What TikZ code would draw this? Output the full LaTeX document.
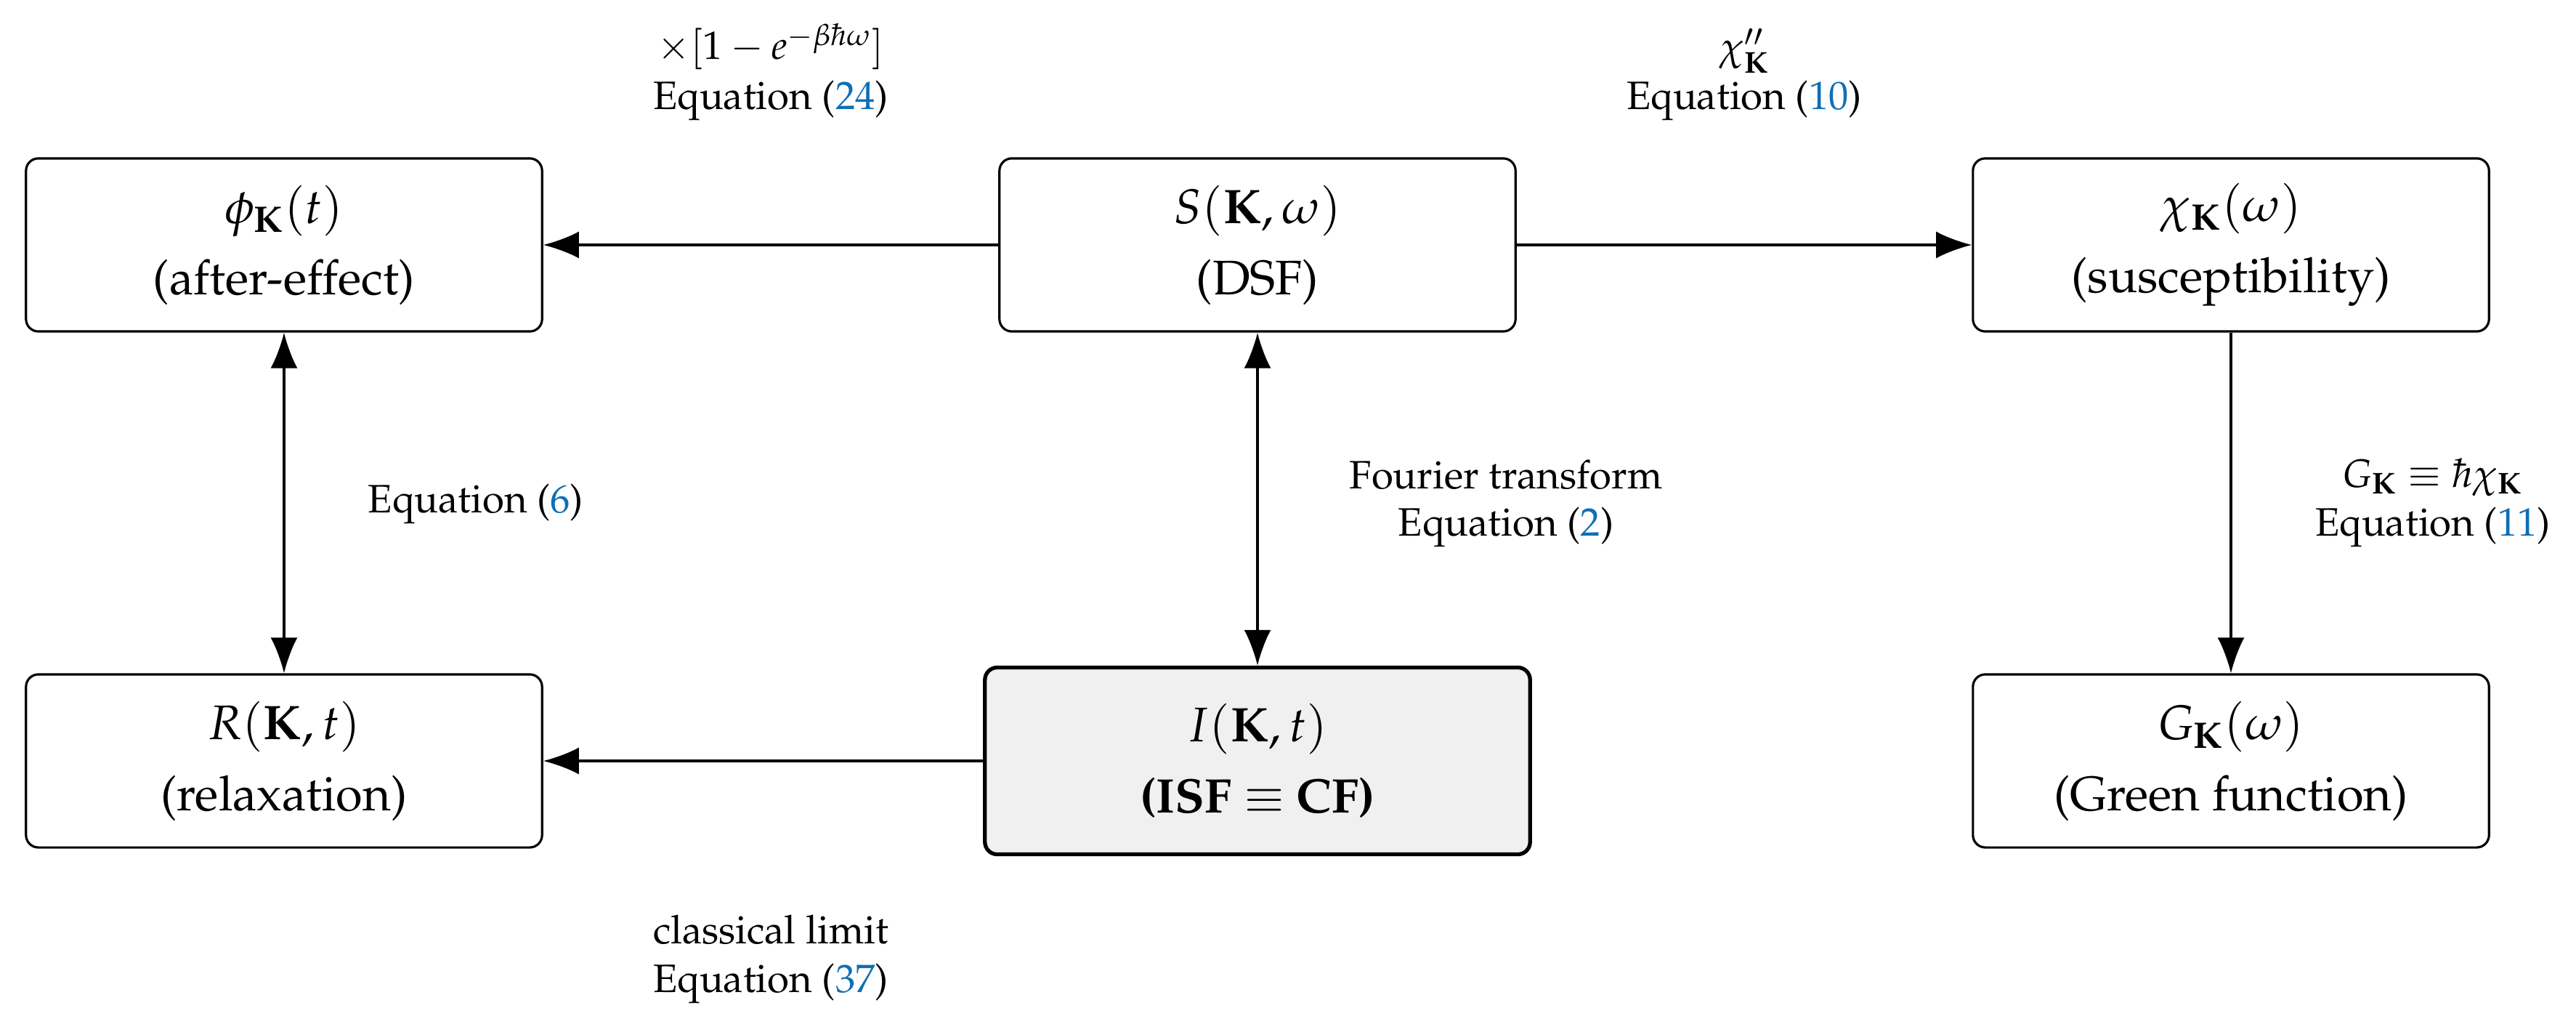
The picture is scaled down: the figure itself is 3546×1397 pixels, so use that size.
\documentclass[tikz,border=0pt]{standalone}
\usepackage[T1]{fontenc}
\usepackage{mathpazo}
\usetikzlibrary{arrows.meta}
\definecolor{refblue}{HTML}{0F6FB4}
\newcommand{\boxfont}{\fontsize{19}{27.8}\selectfont}
\newcommand{\labfont}{\fontsize{15.5}{18.7}\selectfont}
\newcommand{\eqnum}[1]{Equation (\textcolor{refblue}{#1})}
\tikzset{
  box/.style={draw=black, line width=0.9pt, rounded corners=0.17cm,
    minimum width=7.10cm, minimum height=2.38cm, align=center,
    font=\boxfont, inner sep=0pt},
  keybox/.style={box, line width=1.5pt, fill=gray!12,
    minimum width=7.50cm, minimum height=2.57cm},
  tip/.tip={Latex[length=0.49cm,width=0.37cm]},
  conn/.style={line width=0.95pt, -tip},
  twoway/.style={line width=0.95pt, tip-tip},
  lab/.style={font=\labfont, anchor=base, inner sep=0pt},
}
\begin{document}
\begin{tikzpicture}[x=0.01cm, y=-0.01cm]
\useasboundingbox (0,0) rectangle (3546,1397);

% boxes
\node[box] (phi) at (391,337) {$\phi_{\mathbf{K}}(t)$\\(after-effect)};
\node[box] (S) at (1731,337) {$S(\mathbf{K},\omega)$\\(DSF)};
\node[box] (chi) at (3071,337) {$\chi_{\mathbf{K}}(\omega)$\\(susceptibility)};
\node[box] (R) at (391,1047) {$R(\mathbf{K},t)$\\(relaxation)};
\node[keybox] (I) at (1731,1047) {$I(\mathbf{K},t)$\\\textbf{(ISF $\equiv$ CF)}};
\node[box] (G) at (3071,1047) {$G_{\mathbf{K}}(\omega)$\\(Green function)};

% connectors
\draw[conn] (S.west) -- (phi.east);
\draw[conn] (S.east) -- (chi.west);
\draw[twoway] (phi.south) -- (R.north);
\draw[twoway] (S.south) -- (I.north);
\draw[conn] (chi.south) -- (G.north);
\draw[conn] (I.west) -- (R.east);

% labels
\node[lab] (l24a) at (1061,82) {$\times[1-e^{-\beta\hbar\omega}]$};
\node[lab] (l24b) at (1061,150) {\eqnum{24}};
\node[lab] (l10a) at (2401,83) {$\chi''_{\mathbf{K}}$};
\node[lab] (l10b) at (2401,150) {\eqnum{10}};
\node[lab] (l6) at (655,705) {\eqnum{6}};
\node[lab] (l2a) at (2073,672) {Fourier transform};
\node[lab] (l2b) at (2073,737) {\eqnum{2}};
\node[lab] (l11a) at (3349,670) {$G_{\mathbf{K}}\equiv\hbar\chi_{\mathbf{K}}$};
\node[lab] (l11b) at (3349,737) {\eqnum{11}};
\node[lab] (l37a) at (1061,1298) {classical limit};
\node[lab] (l37b) at (1061,1365) {\eqnum{37}};
\end{tikzpicture}
\end{document}
